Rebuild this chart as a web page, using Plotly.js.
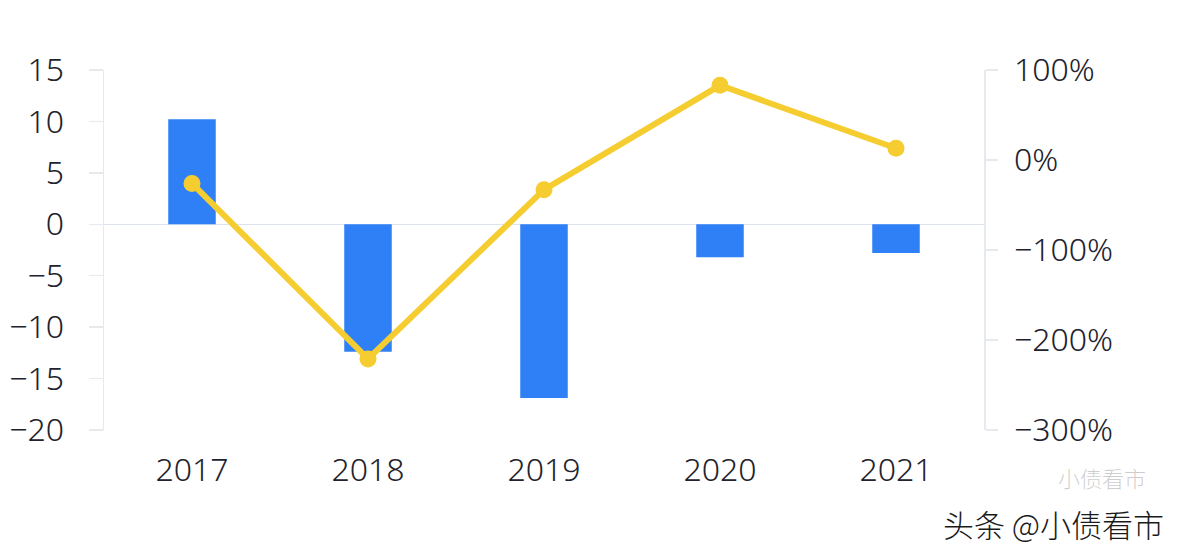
<!DOCTYPE html>
<html>
<head>
<meta charset="utf-8">
<script src="https://cdn.plot.ly/plotly-3.0.1.min.js"></script>
<style>html,body{margin:0;padding:0;background:#fff;}#chart{width:1182px;height:560px;}</style>
</head>
<body>
<div id="chart"></div>
<script>
const years = ["2017", "2018", "2019", "2020", "2021"];
const barValues = [10.2, -12.4, -16.9, -3.2, -2.8];
const lineValues = [-0.26, -2.21, -0.33, 0.83, 0.13];
const leftTicks = [15, 10, 5, 0, -5, -10, -15, -20];
const rightTicks = [1, 0, -1, -2, -3];

const font = {family: "Noto Sans, Lato, sans-serif", size: 32, color: "#22222c", weight: 300};

const data = [
  {type: "bar", x: years, y: barValues, marker: {color: "#2f80f6"}, width: 0.27, yaxis: "y", hoverinfo: "none"},
  {type: "scatter", mode: "lines+markers", x: years, y: lineValues, yaxis: "y2",
   line: {color: "#f5cd30", width: 6}, marker: {color: "#f5cd30", size: 17}, hoverinfo: "none"}
];

const layout = {
  width: 1182, height: 560,
  margin: {l: 104, r: 198, t: 70, b: 130},
  paper_bgcolor: "#ffffff", plot_bgcolor: "#ffffff",
  showlegend: false,
  font: font,
  xaxis: {type: "category", range: [-0.5, 4.5], showgrid: false, showline: false, ticks: "",
          tickfont: font, ticklabelstandoff: 18},
  yaxis: {range: [-20, 15], tickvals: leftTicks, showgrid: false, zeroline: true,
          zerolinecolor: "#dce3ee", zerolinewidth: 1.5,
          showline: true, linecolor: "#e6e9ee", linewidth: 1.5,
          ticks: "outside", ticklen: 14, tickcolor: "#e6e9ee", tickwidth: 1.5,
          tickfont: font, ticklabelstandoff: 18},
  yaxis2: {range: [-3, 1], tickvals: rightTicks, tickformat: ".0%", overlaying: "y", side: "right",
           showgrid: false, zeroline: false,
           showline: true, linecolor: "#e6e9ee", linewidth: 1.5,
           ticks: "outside", ticklen: 12, tickcolor: "#e6e9ee", tickwidth: 1.5,
           tickfont: font, ticklabelstandoff: 10},
  annotations: [
    {text: "小债看市", xref: "paper", yref: "paper", x: 1.186, y: -0.13, xanchor: "right", yanchor: "middle",
     showarrow: false, font: {family: "Noto Sans CJK SC", size: 22, color: "rgba(110,110,110,0.35)"}},
    {text: "头条 @小债看市", xref: "paper", yref: "paper", x: 1.207, y: -0.26, xanchor: "right", yanchor: "middle",
     showarrow: false, font: {family: "Noto Sans CJK SC", size: 31, color: "#1a1a1a"}}
  ]
};

Plotly.newPlot("chart", data, layout, {displayModeBar: false, staticPlot: true});
</script>
</body>
</html>
